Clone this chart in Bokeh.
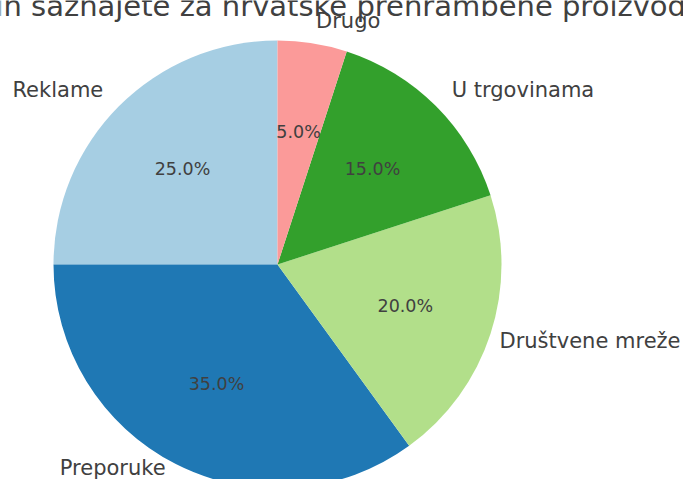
import math
from bokeh.plotting import figure
from bokeh.models import Range1d, ColumnDataSource
from bokeh.core.properties import value
from bokeh.embed import file_html
from bokeh.resources import INLINE

title_text = "Na koji način saznajete za hrvatske prehrambene proizvode?"
categories = ["Reklame", "Preporuke", "Društvene mreže", "U trgovinama", "Drugo"]
shares = [25, 35, 20, 15, 5]
colors = ["#a6cee3", "#1f78b4", "#b2df8a", "#33a02c", "#fb9a99"]

# layout constants (pixel-like coordinates, y negative downward)
W, H = 683, 479
CX, CY, R = 277, -264, 224
FONT = "DejaVu Sans"
TXT = "#404040"

total = sum(shares)
starts, ends, lx, ly, lalign, px, py, pct = [], [], [], [], [], [], [], []
acc = 0.0
for v in shares:
    a0 = math.pi / 2 + 2 * math.pi * acc / total
    a1 = a0 + 2 * math.pi * v / total
    acc += v
    starts.append(a0)
    ends.append(a1)
    mid = (a0 + a1) / 2
    x = math.cos(mid)
    y = math.sin(mid)
    lx.append(CX + 1.1 * R * x)
    ly.append(CY + 1.1 * R * y)
    lalign.append("left" if x > 0 else "right")
    px.append(CX + 0.6 * R * x)
    py.append(CY + 0.6 * R * y)
    pct.append(f"{100.0 * v / total:.1f}%")

# keep the two outermost labels inside the canvas
for i, (xx, yy) in enumerate(zip(lx, ly)):
    if yy < -H + 22:
        ly[i] = -H + 12
    if lalign[i] == "left" and xx + 182 > W - 2:
        lx[i] = W - 3
        lalign[i] = "right"

src = ColumnDataSource(dict(cat=categories, start=starts, end=ends, color=colors,
                            lx=lx, ly=ly, align=lalign, px=px, py=py, pct=pct))

p = figure(width=W, height=H, output_backend="svg", toolbar_location=None,
           x_range=Range1d(0, W), y_range=Range1d(-H, 0),
           min_border=0)
p.axis.visible = False
p.grid.visible = False
p.outline_line_color = None
p.background_fill_color = "white"
p.border_fill_color = "white"

p.wedge(x=CX, y=CY, radius=R, start_angle="start", end_angle="end",
        fill_color="color", line_color=None, source=src)

p.text(x="lx", y="ly", text="cat", text_align="align", text_baseline="middle",
       text_font=value(FONT), text_font_size="21px", text_color=TXT, source=src)
p.text(x="px", y="py", text="pct", text_align="center", text_baseline="middle",
       text_font=value(FONT), text_font_size="17.5px", text_color=TXT, source=src)

p.text(x=[CX], y=[-5], text=[title_text], text_align="center",
       text_baseline="alphabetic", text_font=value(FONT), text_font_size="29px",
       text_color=TXT)

open("out.html", "w").write(file_html(p, INLINE))
